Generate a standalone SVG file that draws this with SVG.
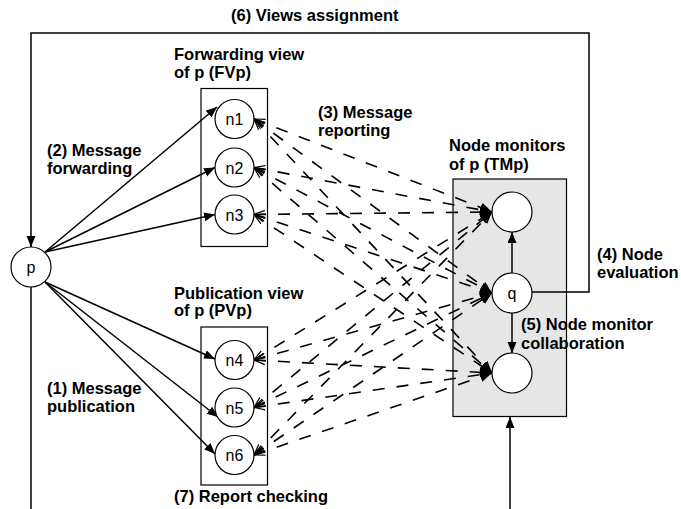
<svg xmlns="http://www.w3.org/2000/svg" width="681" height="509" viewBox="0 0 681 509">
<style>
text{font-family:"Liberation Sans",Arial,sans-serif;fill:#000}
.lbl{font-size:16.5px;font-weight:bold}
.nl{font-size:16px;text-anchor:middle}
.c{fill:#fff;stroke:#000;stroke-width:1.2}
.box{fill:none;stroke:#000;stroke-width:1.2}
.sol{fill:none;stroke:#000;stroke-width:1.5}
.dash{fill:none;stroke:#000;stroke-width:1.6;stroke-dasharray:12 12;marker-start:url(#open);marker-end:url(#fill)}
</style>
<defs>
<marker id="arr" markerUnits="userSpaceOnUse" markerWidth="12" markerHeight="10" refX="11" refY="4.5" orient="auto">
<path d="M0,0 L11,4.5 L0,9 z" fill="#000" stroke="none"/>
</marker>
<marker id="fill" markerUnits="userSpaceOnUse" markerWidth="14" markerHeight="12" refX="12" refY="5" orient="auto">
<path d="M0,0 L12,5 L0,10 z" fill="#000" stroke="none"/>
</marker>
<marker id="open" markerUnits="userSpaceOnUse" markerWidth="14" markerHeight="12" refX="11" refY="5" orient="auto-start-reverse">
<path d="M0,1 L11,5 L0,9" fill="none" stroke="#000" stroke-width="1.2" stroke-dasharray="none"/>
</marker>
</defs>

<rect id="tmp-box" x="453" y="179" width="113.5" height="237.5" fill="#e6e6e6" stroke="#000" stroke-width="1.2"/>
<rect id="fvp-box" class="box" x="201" y="88.5" width="66.5" height="158"/>
<rect id="pvp-box" class="box" x="201" y="327" width="66.5" height="158"/>

<g id="connectors">
<polyline class="sol" points="532,292 589,292 589,33 31,33 31,247" marker-end="url(#arr)"/>
<line class="sol" x1="31" y1="287" x2="31" y2="509"/>
<line class="sol" x1="510" y1="509" x2="510" y2="417" marker-end="url(#arr)"/>
<line class="sol" x1="45" y1="252" x2="217" y2="107" marker-end="url(#arr)"/>
<line class="sol" x1="45" y1="252" x2="215" y2="167.5" marker-end="url(#arr)"/>
<line class="sol" x1="45" y1="252" x2="215" y2="214.5" marker-end="url(#arr)"/>
<line class="sol" x1="45" y1="282" x2="215" y2="359" marker-end="url(#arr)"/>
<line class="sol" x1="45" y1="282" x2="218" y2="417" marker-end="url(#arr)"/>
<line class="sol" x1="45" y1="282" x2="215" y2="454" marker-end="url(#arr)"/>
<line class="sol" x1="512" y1="273" x2="512" y2="232" marker-end="url(#arr)"/>
<line class="sol" x1="512" y1="313" x2="512" y2="353" marker-end="url(#arr)"/>
<path class="dash" d="M254,119 L492,212"/>
<path class="dash" d="M254,119 L492,293"/>
<path class="dash" d="M254,119 L492,373"/>
<path class="dash" d="M254,167.5 L492,212"/>
<path class="dash" d="M254,167.5 L492,293"/>
<path class="dash" d="M254,167.5 L492,373"/>
<path class="dash" d="M254,214.5 L492,212"/>
<path class="dash" d="M254,214.5 L492,293"/>
<path class="dash" d="M254,214.5 L492,373"/>
<path class="dash" d="M254,360 L492,212"/>
<path class="dash" d="M254,360 L492,293"/>
<path class="dash" d="M254,360 L492,373"/>
<path class="dash" d="M254,407.5 L492,212"/>
<path class="dash" d="M254,407.5 L492,293"/>
<path class="dash" d="M254,407.5 L492,373"/>
<path class="dash" d="M254,455 L492,212"/>
<path class="dash" d="M254,455 L492,293"/>
<path class="dash" d="M254,455 L492,373"/>
</g>

<g id="p"><circle class="c" cx="31" cy="267" r="20"/><text class="nl" x="31" y="273">p</text></g>
<g id="n1"><circle class="c" cx="234.5" cy="119" r="19.5"/><text class="nl" x="234.5" y="125">n1</text></g>
<g id="n2"><circle class="c" cx="234.5" cy="167.5" r="19.5"/><text class="nl" x="234.5" y="173.5">n2</text></g>
<g id="n3"><circle class="c" cx="234.5" cy="214.5" r="19.5"/><text class="nl" x="234.5" y="220.5">n3</text></g>
<g id="n4"><circle class="c" cx="234.5" cy="360" r="19.5"/><text class="nl" x="234.5" y="366">n4</text></g>
<g id="n5"><circle class="c" cx="234.5" cy="407.5" r="19.5"/><text class="nl" x="234.5" y="413.5">n5</text></g>
<g id="n6"><circle class="c" cx="234.5" cy="455" r="19.5"/><text class="nl" x="234.5" y="461">n6</text></g>
<g id="m1"><circle class="c" cx="512" cy="212" r="20"/></g>
<g id="q"><circle class="c" cx="512" cy="293" r="20"/><text class="nl" x="512" y="299">q</text></g>
<g id="m3"><circle class="c" cx="512" cy="373" r="20"/></g>

<g id="labels" class="lbl">
<text class="lbl" x="231" y="21">(6) Views assignment</text>
<text class="lbl" x="174" y="60">Forwarding view</text>
<text class="lbl" x="174" y="78">of p (FVp)</text>
<text class="lbl" x="318" y="118">(3) Message</text>
<text class="lbl" x="318" y="136">reporting</text>
<text class="lbl" x="47" y="156">(2) Message</text>
<text class="lbl" x="47" y="174">forwarding</text>
<text class="lbl" x="449" y="151">Node monitors</text>
<text class="lbl" x="449" y="170">of p (TMp)</text>
<text class="lbl" x="597" y="260">(4) Node</text>
<text class="lbl" x="597" y="278">evaluation</text>
<text class="lbl" x="521" y="330">(5) Node monitor</text>
<text class="lbl" x="521" y="349">collaboration</text>
<text class="lbl" x="174" y="299">Publication view</text>
<text class="lbl" x="174" y="316">of p (PVp)</text>
<text class="lbl" x="47" y="394">(1) Message</text>
<text class="lbl" x="47" y="412">publication</text>
<text class="lbl" x="174" y="502">(7) Report checking</text>
</g>
</svg>
